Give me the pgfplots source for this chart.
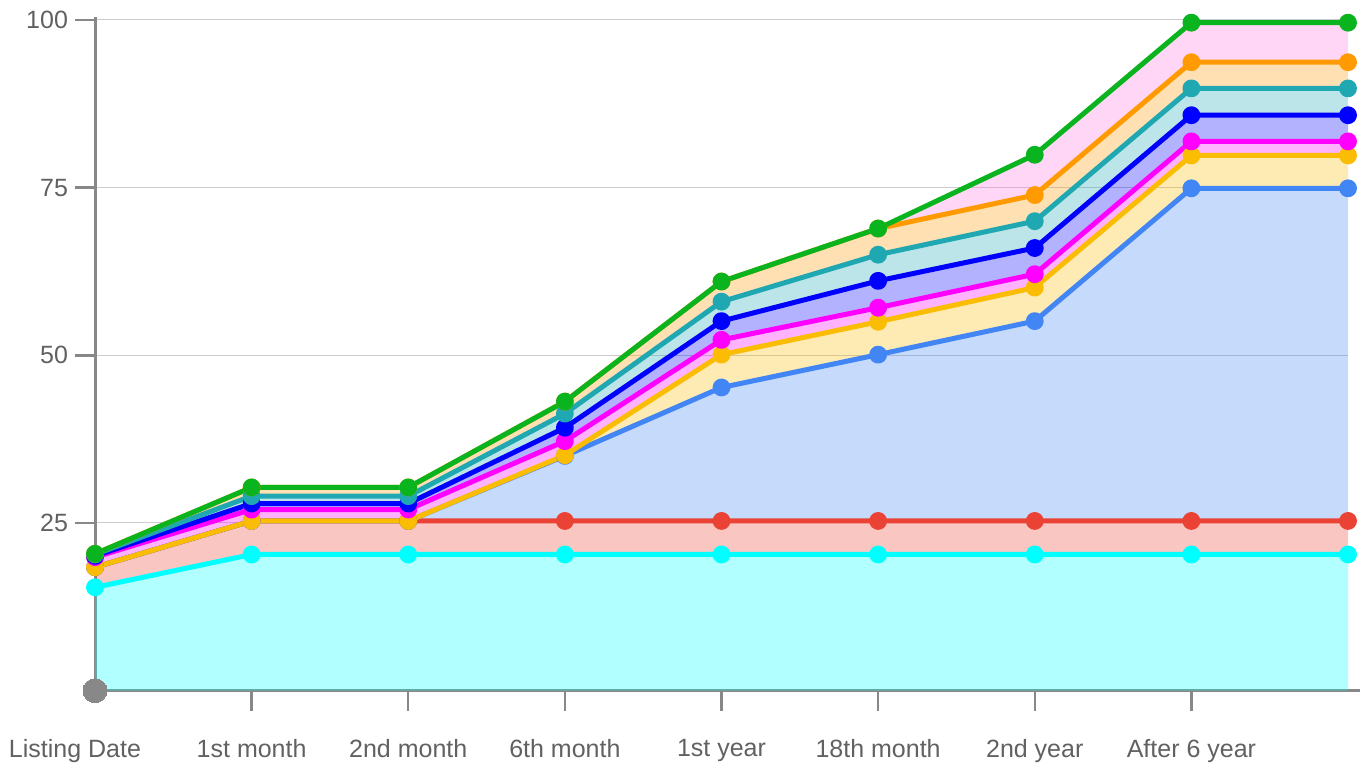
\documentclass[border=0pt]{standalone}
\usepackage{pgfplots}
\pgfplotsset{compat=1.18}
\usepackage{pgfplotstable}
\usepgfplotslibrary{fillbetween}
\usepackage{fontspec}
\setmainfont{Liberation Sans}
\definecolor{cCy}{RGB}{0,255,255}
\definecolor{cRd}{HTML}{EA4335}
\definecolor{cLb}{HTML}{4285F4}
\definecolor{cYl}{HTML}{FBBC04}
\definecolor{cMg}{HTML}{FF00FF}
\definecolor{cBl}{HTML}{0000FF}
\definecolor{cTl}{RGB}{31,168,178}
\definecolor{cOr}{RGB}{255,154,0}
\definecolor{cGr}{RGB}{10,180,30}
\definecolor{cPk}{RGB}{255,118,222}
\definecolor{axgray}{RGB}{136,136,136}
\definecolor{gridgray}{RGB}{204,204,204}
\definecolor{txtgray}{RGB}{97,97,97}
\pgfplotstableread{
x cy rd lb yl mg bl tl or gr
0 15.4 18.4 18.4 18.4 19.9 20.1 20.3 20.4 20.4
1 20.3 25.3 25.3 25.3 27.0 27.9 29.0 30.3 30.3
2 20.3 25.3 25.3 25.3 27.0 27.9 29.0 30.3 30.3
3 20.3 25.3 35.0 35.1 37.2 39.2 41.3 43.1 43.1
4 20.3 25.3 45.2 50.1 52.3 55.1 58.0 61.0 61.0
5 20.3 25.3 50.1 55.0 57.1 61.1 65.0 68.9 68.9
6 20.3 25.3 55.1 60.1 62.1 66.0 70.0 73.9 79.9
7 20.3 25.3 74.9 79.8 81.9 85.8 89.8 93.7 99.6
8 20.3 25.3 74.9 79.8 81.9 85.8 89.8 93.7 99.6
}\datatable
\begin{document}
\begin{tikzpicture}
\begin{axis}[
  scale only axis, width=626.5pt, height=335.3pt,
  xmin=0, xmax=8, ymin=0, ymax=100,
  axis x line*=bottom, axis y line*=left,
  axis line style={draw=axgray, line width=1.5pt},
  x axis line style={shorten >=-6pt},
  y axis line style={shorten >=-1.5pt},
  tick align=outside, major tick length=10pt,
  tick style={draw=axgray, line width=1.2pt},
  xtick={1,...,7},
  xticklabels={1st month,2nd month,6th month,1st year,18th month,2nd year,After 6 year},
  ytick={25,50,75,100},
  extra x ticks={0}, extra x tick labels={Listing Date},
  extra x tick style={major tick style={draw=none}, xticklabel style={xshift=-10pt}},
  ymajorgrids, grid style={draw=gridgray, line width=0.5pt},
  ticklabel style={font=\fontsize{12.5}{15}\selectfont, text=txtgray},
  /pgf/number format/assume math mode=true,
  xticklabel style={yshift=-11pt},
  clip=false,
]
\addplot[draw=none, name path=B] table[x=x, y expr=0] {\datatable};
\addplot[draw=none, name path=CY] table[x=x, y=cy] {\datatable};
\addplot[draw=none, name path=RD] table[x=x, y=rd] {\datatable};
\addplot[draw=none, name path=LB] table[x=x, y=lb] {\datatable};
\addplot[draw=none, name path=YL] table[x=x, y=yl] {\datatable};
\addplot[draw=none, name path=MG] table[x=x, y=mg] {\datatable};
\addplot[draw=none, name path=BL] table[x=x, y=bl] {\datatable};
\addplot[draw=none, name path=TL] table[x=x, y=tl] {\datatable};
\addplot[draw=none, name path=OR] table[x=x, y=or] {\datatable};
\addplot[draw=none, name path=GR] table[x=x, y=gr] {\datatable};
\addplot[fill=cCy, fill opacity=0.3, draw=none] fill between[of=B and CY];
\addplot[fill=cRd, fill opacity=0.3, draw=none] fill between[of=CY and RD];
\addplot[fill=cLb, fill opacity=0.3, draw=none] fill between[of=RD and LB];
\addplot[fill=cYl, fill opacity=0.3, draw=none] fill between[of=LB and YL];
\addplot[fill=cMg, fill opacity=0.3, draw=none] fill between[of=YL and MG];
\addplot[fill=cBl, fill opacity=0.3, draw=none] fill between[of=MG and BL];
\addplot[fill=cTl, fill opacity=0.3, draw=none] fill between[of=BL and TL];
\addplot[fill=cOr, fill opacity=0.3, draw=none] fill between[of=TL and OR];
\addplot[fill=cPk, fill opacity=0.3, draw=none] fill between[of=OR and GR];
\pgfplotsset{every axis plot/.append style={line width=2.5pt, mark=*, mark size=3.2pt, line join=round}}
\addplot[color=cCy, mark options={fill=cCy}] table[x=x, y=cy] {\datatable};
\addplot[color=cRd, mark options={fill=cRd}] table[x=x, y=rd] {\datatable};
\addplot[color=cLb, mark options={fill=cLb}] table[x=x, y=lb] {\datatable};
\addplot[color=cYl, mark options={fill=cYl}] table[x=x, y=yl] {\datatable};
\addplot[color=cMg, mark options={fill=cMg}] table[x=x, y=mg] {\datatable};
\addplot[color=cBl, mark options={fill=cBl}] table[x=x, y=bl] {\datatable};
\addplot[color=cTl, mark options={fill=cTl}] table[x=x, y=tl] {\datatable};
\addplot[color=cOr, mark options={fill=cOr}] table[x=x, y=or] {\datatable};
\addplot[color=cGr, mark options={fill=cGr}] table[x=x, y=gr] {\datatable};
\addplot[only marks, mark=*, mark size=6pt, color=axgray, mark options={fill=axgray, line width=0pt}] coordinates {(0,0)};
\end{axis}
\pgfresetboundingbox
\path[use as bounding box] ([xshift=-47.5pt,yshift=-37.7pt]current axis.south west) rectangle ([xshift=8pt,yshift=10pt]current axis.north east);
\end{tikzpicture}
\end{document}
